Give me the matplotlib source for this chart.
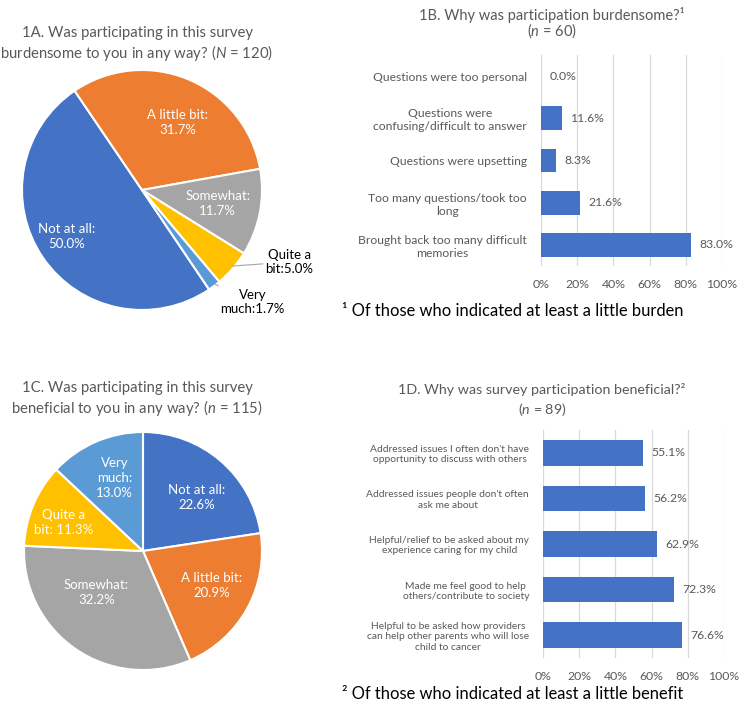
import matplotlib.pyplot as plt
import numpy as np

plt.rcParams['font.family'] = ['Lato', 'DejaVu Sans']
plt.rcParams['mathtext.fontset'] = 'custom'
plt.rcParams['mathtext.rm'] = 'Lato'
plt.rcParams['mathtext.it'] = 'Lato:italic'

# 1A - burden levels
burden_levels = ['Not at all', 'A little bit', 'Somewhat', 'Quite a bit', 'Very much']
burden_pct = [50.0, 31.7, 11.7, 5.0, 1.7]
burden_labels = ['Not at all:\n50.0%', 'A little bit:\n31.7%', 'Somewhat:\n11.7%',
                 'Quite a\nbit:5.0%', 'Very\nmuch:1.7%']

# 1C - benefit levels
benefit_levels = ['Not at all', 'A little bit', 'Somewhat', 'Quite a bit', 'Very much']
benefit_pct = [22.6, 20.9, 32.2, 11.3, 13.0]
benefit_labels = ['Not at all:\n22.6%', 'A little bit:\n20.9%', 'Somewhat:\n32.2%',
                  'Quite a\nbit: 11.3%', 'Very\nmuch:\n13.0%']

# 1B - reasons for burden
burden_reasons = ['Questions were too personal',
                  'Questions were\nconfusing/difficult to answer',
                  'Questions were upsetting',
                  'Too many questions/took too\nlong',
                  'Brought back too many difficult\nmemories']
burden_reason_pct = [0.0, 11.6, 8.3, 21.6, 83.0]

# 1D - reasons for benefit
benefit_reasons = ["Addressed issues I often don't have\nopportunity to discuss with others",
                   "Addressed issues people don't often\nask me about",
                   'Helpful/relief to be asked about my\nexperience caring for my child',
                   'Made me feel good to help\nothers/contribute to society',
                   'Helpful to be asked how providers\ncan help other parents who will lose\nchild to cancer']
benefit_reason_pct = [55.1, 56.2, 62.9, 72.3, 76.6]

pct_ticks = [0, 20, 40, 60, 80, 100]

colors = ['#4472C4', '#ED7D31', '#A5A5A5', '#FFC000', '#5B9BD5']
bar_color = '#4472C4'
gray_txt = '#595959'

W, H = 739, 711
fig = plt.figure(figsize=(W / 100, H / 100), dpi=100)


def px_axes(l, t, r, b):
    return fig.add_axes([l / W, 1 - b / H, (r - l) / W, (b - t) / H])


def px_text(x, y, s, **kw):
    fig.text(x / W, 1 - y / H, s, **kw)


def draw_pie(ax, vals, labels, start, pos, tcolors, leaders):
    wedges, _ = ax.pie(vals, colors=colors, startangle=start, counterclock=False,
                       wedgeprops=dict(edgecolor='white', linewidth=1.5))
    ax.set_xlim(-1, 1)
    ax.set_ylim(-1, 1)
    ax.set_aspect('equal')
    for w, lab, p, c, lead in zip(wedges, labels, pos, tcolors, leaders):
        if lead:
            mid = np.deg2rad((w.theta1 + w.theta2) / 2)
            ax.annotate(lab, (0.97 * np.cos(mid), 0.97 * np.sin(mid)), xytext=p,
                        ha='center', va='center', fontsize=9.5, color=c,
                        arrowprops=dict(arrowstyle='-', color='#A6A6A6', lw=0.8,
                                        shrinkA=0, shrinkB=2))
        else:
            ax.text(p[0], p[1], lab, ha='center', va='center', fontsize=9.5,
                    color=c, linespacing=1.3)


def draw_bars(ax, cats, vals, fs):
    y = np.arange(len(cats))
    ax.barh(y, vals, height=0.56, color=bar_color, zorder=2)
    ax.set_ylim(len(cats) - 0.5, -0.5)
    ax.set_xlim(0, 100)
    ax.set_xticks(pct_ticks)
    ax.set_xticklabels([f'{t}%' for t in pct_ticks], fontsize=8.8, color=gray_txt)
    ax.set_yticks(y)
    ax.set_yticklabels(cats, fontsize=fs, color=gray_txt)
    for lbl in ax.get_yticklabels():
        lbl.set_multialignment('center')
    ax.tick_params(length=0, axis='y', pad=10)
    ax.tick_params(length=0, axis='x', pad=9)
    for s in ax.spines.values():
        s.set_visible(False)
    ax.grid(axis='x', color='#D9D9D9', lw=0.9, zorder=0)
    ax.set_axisbelow(True)
    for yi, v in zip(y, vals):
        ax.annotate(f'{v:.1f}%', (v, yi), xytext=(6, 0), textcoords='offset points',
                    va='center', ha='left', fontsize=8.8, color=gray_txt)


# 1A pie
ax1 = px_axes(22, 70, 262, 310)
draw_pie(ax1, burden_pct, burden_labels, -56,
         [(-0.625, -0.39), (0.30, 0.56), (0.63, -0.11), (1.23, -0.60), (0.92, -0.93)],
         ['white', 'white', 'white', 'black', 'black'],
         [False, False, False, True, True])
px_text(137, 33, '1A. Was participating in this survey', ha='center', va='center',
        fontsize=10.7, color=gray_txt)
px_text(137, 53, 'burdensome to you in any way? ($\\it{N}$ = 120)', ha='center', va='center',
        fontsize=10.7, color=gray_txt)

# 1C pie
ax3 = px_axes(24, 432, 262, 670)
draw_pie(ax3, benefit_pct, benefit_labels, 90,
         [(0.45, 0.45), (0.58, -0.29), (-0.39, -0.35), (-0.67, 0.24), (-0.24, 0.61)],
         ['white'] * 5, [False] * 5)
px_text(137, 388, '1C. Was participating in this survey', ha='center', va='center',
        fontsize=10.7, color=gray_txt)
px_text(137, 408, 'beneficial to you in any way? ($\\it{n}$ = 115)', ha='center', va='center',
        fontsize=10.7, color=gray_txt)

# 1B bars
ax2 = px_axes(541, 55, 722, 266)
draw_bars(ax2, burden_reasons, burden_reason_pct, 8.7)
px_text(552, 15, '1B. Why was participation burdensome?\u00b9', ha='center', va='center',
        fontsize=10.5, color=gray_txt)
px_text(552, 31, '($\\it{n}$ = 60)', ha='center', va='center', fontsize=10.5, color=gray_txt)
px_text(342, 311, '\u00b9 Of those who indicated at least a little burden', ha='left',
        va='center', fontsize=11.9, color='black')

# 1D bars
ax4 = px_axes(543, 430, 724, 658)
draw_bars(ax4, benefit_reasons, benefit_reason_pct, 7.4)
px_text(542, 390, '1D. Why was survey participation beneficial?\u00b2', ha='center',
        va='center', fontsize=10.3, color=gray_txt)
px_text(542, 410, '($\\it{n}$ = 89)', ha='center', va='center', fontsize=10.3, color=gray_txt)
px_text(342, 694, '\u00b2 Of those who indicated at least a little benefit', ha='left',
        va='center', fontsize=11.9, color='black')

fig.savefig('out.png', dpi=100)
